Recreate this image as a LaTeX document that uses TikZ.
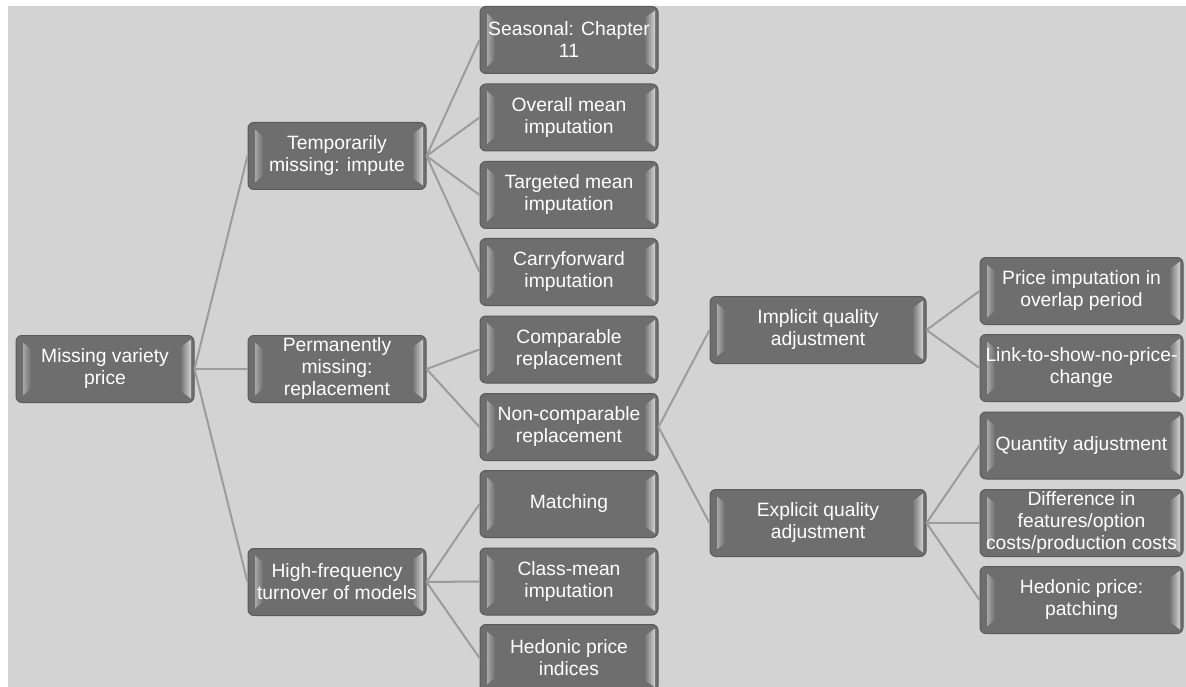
\documentclass[tikz,border=0pt]{standalone}
\usepackage{fontspec}
\setmainfont{Liberation Sans}
\definecolor{bg}{HTML}{D3D3D3}
\definecolor{boxfill}{HTML}{6E6E6E}
\definecolor{boxedge}{HTML}{5A5A5A}
\definecolor{hiR}{HTML}{D2D2D2}
\definecolor{hiL}{HTML}{A8A8A8}
\definecolor{link}{HTML}{9C9C9C}
\tikzset{
  x=1pt, y=-1pt,
  box/.style={draw=boxedge, fill=boxfill, rounded corners=6pt, line width=1pt,
    minimum width=178pt, minimum height=67pt, inner sep=0pt, text=white,
    align=center, font=\fontsize{19.3}{22}\selectfont,
    path picture={
      \coordinate (NE) at (path picture bounding box.north east);
      \coordinate (SE) at (path picture bounding box.south east);
      \coordinate (NW) at (path picture bounding box.north west);
      \coordinate (SW) at (path picture bounding box.south west);
      \shade[sharp corners, left color=boxfill, right color=hiR]
        ([xshift=-14pt,yshift=-12pt]NE) -- ([xshift=-3pt,yshift=-4pt]NE)
        -- ([xshift=-3pt,yshift=4pt]SE) -- ([xshift=-14pt,yshift=12pt]SE) -- cycle;
      \shade[sharp corners, left color=hiL, right color=boxfill]
        ([xshift=7pt,yshift=-7pt]NW) -- ([xshift=15pt,yshift=-14pt]NW)
        -- ([xshift=15pt,yshift=14pt]SW) -- ([xshift=7pt,yshift=7pt]SW) -- cycle;
    }},
  wide/.style={box, minimum width=216pt},
  far/.style={box, minimum width=203pt},
  link/.style={draw=link, line width=2pt}
}
\begin{document}
\begin{tikzpicture}
\useasboundingbox (0,0) rectangle (1186,687);
\fill[white] (0,0) rectangle (1186,687);
\fill[bg] (8,6) rectangle (1186,687);

\node[box] (root) at (105,369) {Missing variety\\price};

\node[box] (tmp) at (337,156) {Temporarily\\missing: impute};
\node[box] (perm) at (337,369) {Permanently\\missing:\\replacement};
\node[box] (high) at (337,582) {High-frequency\\turnover of models};

\node[box] (seas) at (569,40) {Seasonal: Chapter\\11};
\node[box] (over) at (569,117.5) {Overall mean\\imputation};
\node[box] (targ) at (569,195) {Targeted mean\\imputation};
\node[box] (carr) at (569,272) {Carryforward\\imputation};
\node[box] (comp) at (569,349.5) {Comparable\\replacement};
\node[box] (ncomp) at (569,427) {Non-comparable\\replacement};
\node[box] (match) at (569,504) {Matching};
\node[box] (cmean) at (569,581.5) {Class-mean\\imputation};
\node[box] (hedi) at (569,658) {Hedonic price\\indices};

\node[wide] (impl) at (818,330) {Implicit quality\\adjustment};
\node[wide] (expl) at (818,523) {Explicit quality\\adjustment};

\node[far] (overlap) at (1081.5,291) {Price imputation in\\overlap period};
\node[far] (linkn) at (1081.5,368) {Link-to-show-no-price-\\change};
\node[far] (quant) at (1081.5,445.5) {Quantity adjustment};
\node[far] (diff) at (1081.5,523) {Difference in\\features/option\\costs/production costs};
\node[far] (hedp) at (1081.5,600) {Hedonic price:\\patching};

\foreach \a/\b in {root/tmp, root/perm, root/high,
  tmp/seas, tmp/over, tmp/targ, tmp/carr,
  perm/comp, perm/ncomp,
  high/match, high/cmean, high/hedi,
  ncomp/impl, ncomp/expl,
  impl/overlap, impl/linkn,
  expl/quant, expl/diff, expl/hedp}
  \draw[link] (\a.east) -- (\b.west);
\end{tikzpicture}
\end{document}
